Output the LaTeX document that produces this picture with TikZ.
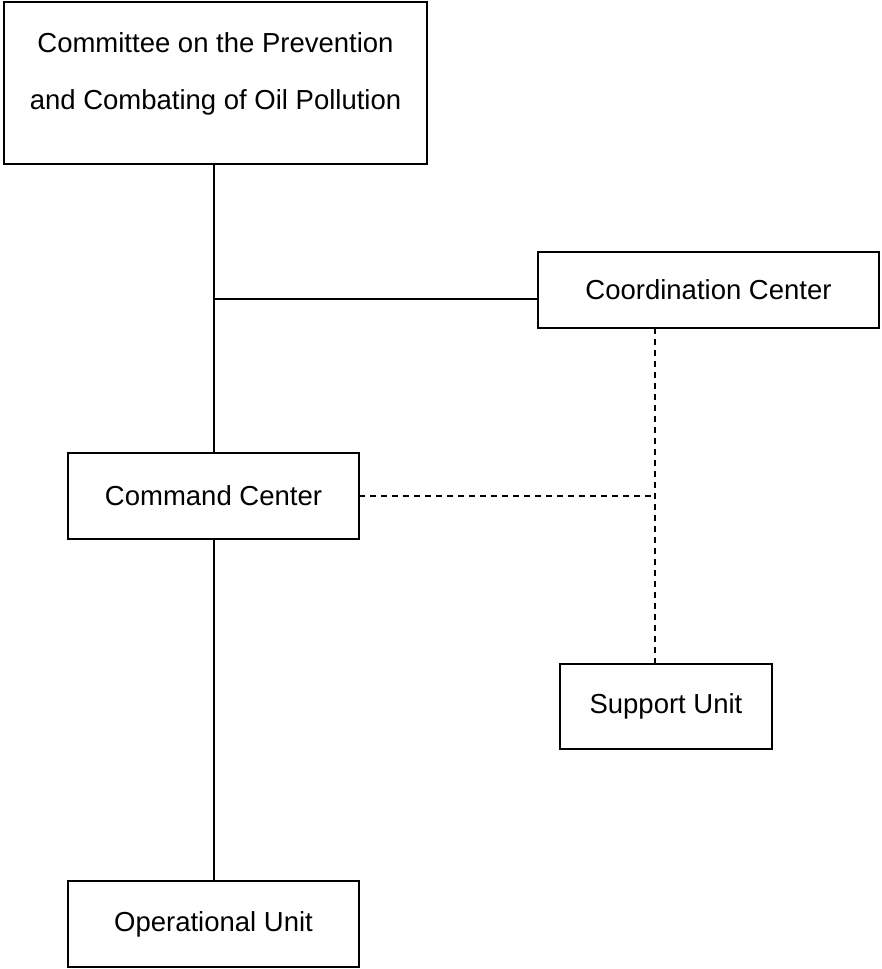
\documentclass[tikz,border=0pt]{standalone}
\usepackage{fontspec}
\setmainfont{Liberation Sans}

\begin{document}
\begin{tikzpicture}[x=1pt, y=-1pt,
    unit/.style={rectangle, draw=black, line width=1.6pt, inner sep=0pt, outer sep=0pt, font=\fontsize{27.5}{33}\selectfont},
    link/.style={draw=black, line width=1.5pt},
    dotlink/.style={draw=black, line width=1.5pt, dash pattern=on 6pt off 5pt}
    ]
    \useasboundingbox (0,0) rectangle (881,969);

    % the committee box, text set higher than the middle
    \node[unit, minimum width=423pt, minimum height=162pt] (committee) at (215.5,83) {};
    \node[align=center, inner sep=0pt, font=\fontsize{27.5}{57}\selectfont] (committeetext) at (215.5,73.5)
        {Committee on the Prevention\\and Combating of Oil Pollution};

    % the four units
    \node[unit, minimum width=341pt, minimum height=76pt] (coordination) at (708.5,290) {Coordination Center};
    \node[unit, minimum width=291pt, minimum height=86pt] (command) at (213.5,496) {Command Center};
    \node[unit, minimum width=212pt, minimum height=85pt] (support) at (666,706.5) {Support Unit};
    \node[unit, minimum width=291pt, minimum height=86pt] (operational) at (213.5,924) {Operational Unit};

    \coordinate (trunkjoin) at (214,299);
    \coordinate (sidejoin) at (655,496);

    % solid lines of command
    \draw[link] (committee.south -| trunkjoin) -- (command.north -| trunkjoin);
    \draw[link] (trunkjoin) -- (trunkjoin -| coordination.west);
    \draw[link] (command.south -| trunkjoin) -- (operational.north -| trunkjoin);

    % dashed lines of support
    \draw[dotlink] (sidejoin |- coordination.south) -- (sidejoin |- support.north);
    \draw[dotlink] (command.east) -- (sidejoin);
\end{tikzpicture}
\end{document}
